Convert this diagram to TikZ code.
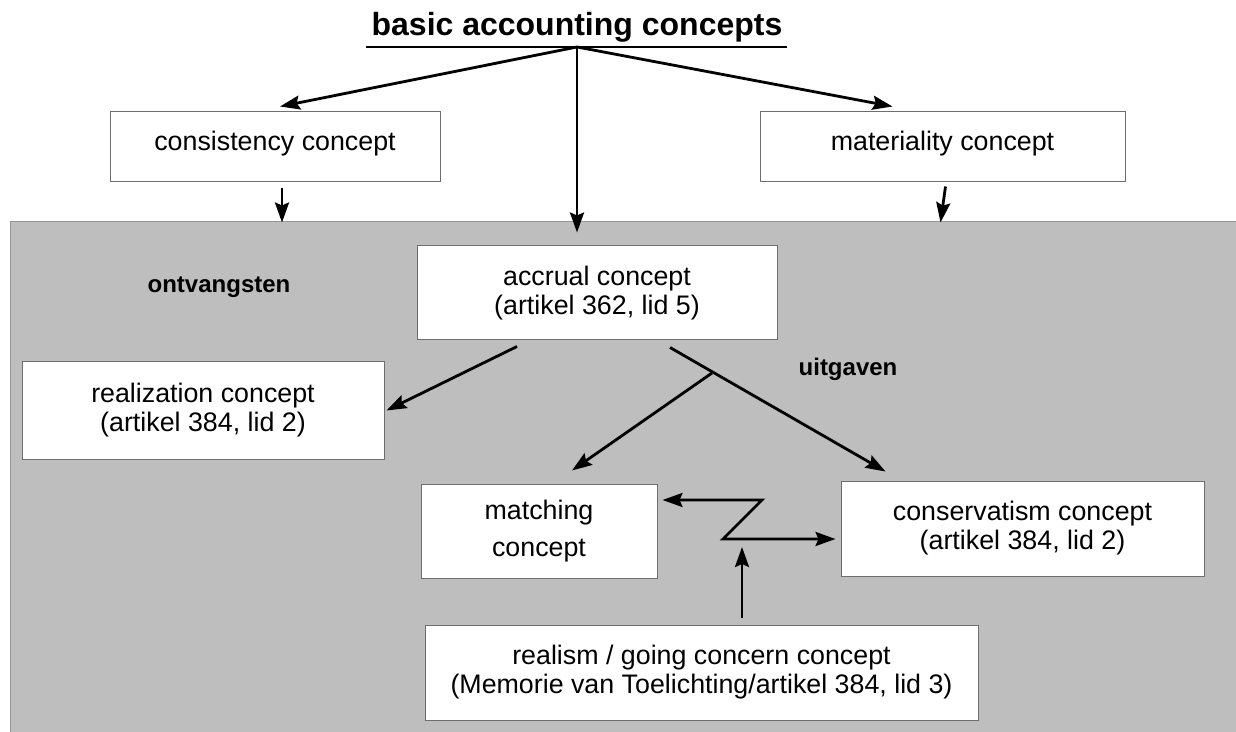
\documentclass[tikz,border=0pt]{standalone}
\usepackage{fontspec}
\setmainfont{Liberation Sans}
\usetikzlibrary{arrows.meta,calc}
\definecolor{panel}{RGB}{190,190,190}
\definecolor{panelline}{RGB}{150,150,150}
\definecolor{boxline}{RGB}{110,110,110}
\begin{document}
\begin{tikzpicture}[x=0.5pt,y=-0.5pt,
  concept/.style={draw=boxline,line width=0.5pt,fill=white,align=center,inner sep=0pt,
    font=\fontsize{13.4}{14.5}\selectfont},
  lab/.style={font=\fontsize{12}{14}\selectfont\bfseries},
  arr/.style={line width=1.4pt,-{Stealth[length=10pt,width=7pt,inset=1.5pt]}},
  arrb/.style={line width=1.4pt,{Stealth[length=10pt,width=7pt,inset=1.5pt]}-{Stealth[length=10pt,width=7pt,inset=1.5pt]}}]
\useasboundingbox (0,0) rectangle (1236,732);
\fill[white] (0,0) rectangle (1236,732);
\filldraw[fill=panel,draw=panelline,line width=0.5pt] (10,222) rectangle (1240,736);

% title
\node[font=\fontsize{16}{18}\selectfont\bfseries] (title) at (577,27) {basic accounting concepts};
\draw[line width=1.3pt] (366,47) -- (787,47);
\coordinate (apex) at (577,47);

% boxes
\node[concept,minimum width=165pt,minimum height=35pt] (cons) at (275,147) {consistency concept\rule[-6pt]{0pt}{0pt}};
\node[concept,minimum width=182.5pt,minimum height=35pt] (mat) at (942.5,147) {materiality concept\rule[-6pt]{0pt}{0pt}};
\node[concept,minimum width=180pt,minimum height=47pt] (accr) at (597,293) {accrual concept\\(artikel 362, lid 5)};
\node[concept,minimum width=181pt,minimum height=48.5pt] (real) at (203,410.5) {realization concept\\(artikel 384, lid 2)};
\node[concept,minimum width=118pt,minimum height=47pt] (match) at (539,531) {matching\\[4pt]concept};
\node[concept,minimum width=181.5pt,minimum height=47.5pt] (consv) at (1022.5,528.5) {conservatism concept\\(artikel 384, lid 2)};
\node[concept,minimum width=276.5pt,minimum height=47.5pt] (realism) at (701.5,672.5) {realism / going concern concept\\(Memorie van Toelichting/artikel 384, lid 3)};

% labels
\node[lab] (ontv) at (219,287) {ontvangsten};
\node[lab] (uitg) at (848,369) {uitgaven};

% arrows from title
\draw[arr] (apex) -- ($(cons.north)+(5,-5)$);
\draw[arr] (apex) -- ($(mat.north)+(-50,-5)$);
\draw[arr] (apex) -- ($(accr.north)+(-20,-13)$);

% short arrows
\draw[arr] ($(cons.south)+(7,6)$) -- ($(cons.south)+(7,40)$);
\draw[arr] ($(mat.south)+(3,4)$) -- ($(mat.south)+(-2,40)$);

% accrual to realization
\draw[arr] ($(accr.south)+(-80,6)$) -- ($(real.east)+(2,0)$);

% accrual to matching / conservatism
\coordinate (a1) at ($(accr.south)+(73,7)$);
\coordinate (br) at (712,373);
\draw[arr] (a1) -- ($(consv.north)+(-137,-9)$);
\draw[arr] (br) -- ($(match.north)+(33,-13)$);

% zigzag
\coordinate (z1) at (762,500);
\coordinate (z2) at (723,539);
\draw[arrb,line join=miter] ($(match.east)+(5,-31)$) -- (z1) -- (z2) -- ($(consv.west)+(-5,10.5)$);
\draw[arr] ($(realism.north)+(40.5,-7)$) -- (742,547);
\end{tikzpicture}
\end{document}
